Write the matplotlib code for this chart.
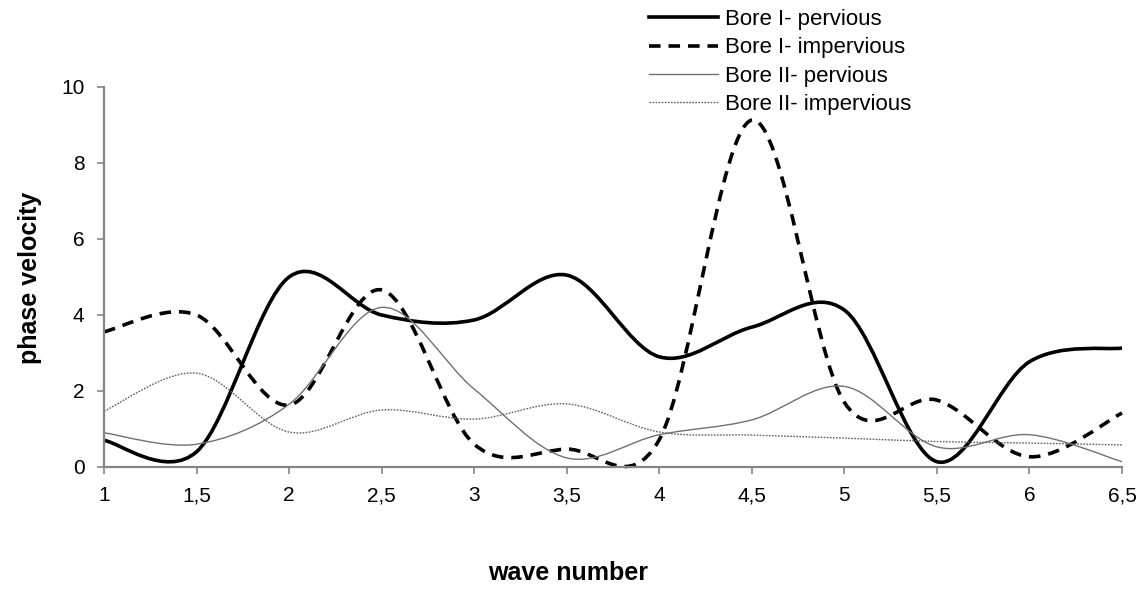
import numpy as np
import matplotlib
matplotlib.use("Agg")
import matplotlib.pyplot as plt
from matplotlib.path import Path
from matplotlib.patches import PathPatch
from matplotlib.lines import Line2D
from matplotlib.ticker import FuncFormatter

plt.rcParams['font.family'] = ['Liberation Sans', 'DejaVu Sans']

wave_number = [1, 1.5, 2, 2.5, 3, 3.5, 4, 4.5, 5, 5.5, 6, 6.5]
bore1_pervious = [0.70, 0.40, 5.00, 4.00, 3.87, 5.05, 2.90, 3.68, 4.13, 0.14, 2.77, 3.13]
bore1_impervious = [3.56, 4.00, 1.63, 4.66, 0.60, 0.47, 0.72, 9.13, 1.70, 1.76, 0.27, 1.42]
bore2_pervious = [0.90, 0.60, 1.65, 4.20, 2.05, 0.24, 0.85, 1.24, 2.12, 0.53, 0.85, 0.14]
bore2_impervious = [1.47, 2.47, 0.92, 1.50, 1.26, 1.66, 0.92, 0.84, 0.76, 0.67, 0.63, 0.58]


def smooth_path(x, y):
    # Excel-style smoothed line: cubic Bezier segments (Catmull-Rom tangents)
    x = np.asarray(x, float)
    y = np.asarray(y, float)
    n = len(x)
    verts = [(x[0], y[0])]
    codes = [Path.MOVETO]
    for i in range(n - 1):
        a = i - 1 if i > 0 else i
        d = i + 2 if i + 2 < n else i + 1
        c1 = (x[i] + (x[i + 1] - x[a]) / 6, y[i] + (y[i + 1] - y[a]) / 6)
        c2 = (x[i + 1] - (x[d] - x[i]) / 6, y[i + 1] - (y[d] - y[i]) / 6)
        verts += [c1, c2, (x[i + 1], y[i + 1])]
        codes += [Path.CURVE4] * 3
    return Path(verts, codes)


series = [
    ("Bore I- pervious", bore1_pervious, dict(color='black', lw=2.6, ls='-')),
    ("Bore I- impervious", bore1_impervious, dict(color='black', lw=2.6, ls=(0, (3.2, 2.2)))),
    ("Bore II- pervious", bore2_pervious, dict(color='#707070', lw=1.0, ls='-')),
    ("Bore II- impervious", bore2_impervious, dict(color='#606060', lw=1.0, ls=(0, (1.2, 1.0)))),
]

fig = plt.figure(figsize=(11.44, 5.90), dpi=100)
ax = fig.add_axes([104 / 1144, 1 - 467 / 590, (1122 - 104) / 1144, (467 - 87) / 590])

handles = []
for label, vals, st in series:
    patch = PathPatch(smooth_path(wave_number, vals), facecolor='none',
                      edgecolor=st['color'], lw=st['lw'], ls=st['ls'],
                      capstyle='butt', joinstyle='round', clip_on=False)
    ax.add_patch(patch)
    handles.append(Line2D([], [], color=st['color'], lw=st['lw'], ls=st['ls'], label=label))

ax.set_xlim(1, 6.5)
ax.set_ylim(0, 10)
ax.set_xticks(wave_number)
ax.set_yticks(np.arange(0, 11, 2))
ax.xaxis.set_major_formatter(FuncFormatter(lambda v, p: f"{v:g}".replace('.', ',')))

for s in ['top', 'right']:
    ax.spines[s].set_visible(False)
for s in ['left', 'bottom']:
    ax.spines[s].set_color('#858585')
    ax.spines[s].set_linewidth(1.6)
ax.tick_params(direction='out', length=5, width=1.2, color='#858585',
               labelsize=15, pad=9)

fig.text(30 / 1144, 1 - 278 / 590, "phase velocity", rotation=90, fontsize=18,
         fontweight='bold', ha='center', va='center')
fig.text(568 / 1144, 1 - 573 / 590, "wave number", fontsize=18,
         fontweight='bold', ha='center', va='center')

fig.legend(handles=handles, loc='upper left', bbox_to_anchor=(649 / 1144, 1 - 9 / 590),
           frameon=False, fontsize=16, borderpad=0, borderaxespad=0,
           handlelength=3.1, handletextpad=0.3, labelspacing=0.33)

fig.savefig("out.png", dpi=100)
